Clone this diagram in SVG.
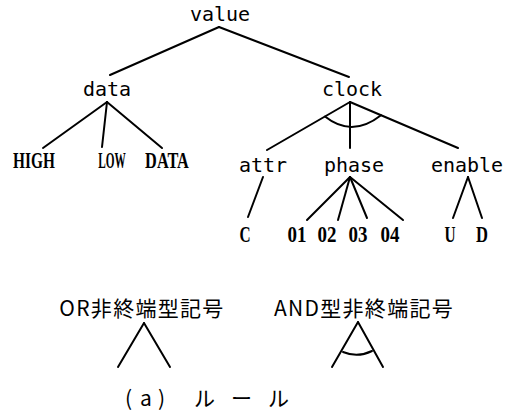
<svg xmlns="http://www.w3.org/2000/svg" width="509" height="414" viewBox="0 0 509 414">
<style>
.t{font-family:"DejaVu Sans Mono","Liberation Mono",monospace;font-size:20px;fill:#000;text-anchor:middle}
.b{font-family:"Liberation Serif","DejaVu Serif",serif;font-weight:bold;font-size:24px;fill:#000;text-anchor:middle}
.j{font-family:"Noto Sans CJK JP",sans-serif;font-size:21px;fill:#000;text-anchor:middle;letter-spacing:1.3px}
.c line,.c path{stroke:#000;stroke-width:2;fill:none;stroke-linecap:round}
</style>
<rect width="509" height="414" fill="#fff"/>
<g id="n-value"><text class="t" x="220" y="21">value</text></g>
<g id="n-data"><text class="t" x="107" y="96">data</text></g>
<g id="n-clock"><text class="t" x="352" y="96">clock</text></g>
<g id="n-high"><text class="b" transform="translate(34,168) scale(0.64,1)">HIGH</text></g>
<g id="n-low"><text class="b" transform="translate(112,168) scale(0.47,1)">LOW</text></g>
<g id="n-DATA"><text class="b" transform="translate(167,168) scale(0.68,1)">DATA</text></g>
<g id="n-attr"><text class="t" x="263" y="172">attr</text></g>
<g id="n-phase"><text class="t" x="354" y="172">phase</text></g>
<g id="n-enable"><text class="t" x="467" y="172">enable</text></g>
<g id="n-C"><text class="b" transform="translate(245,242) scale(0.64,1)">C</text></g>
<g id="n-01"><text class="b" transform="translate(297,242) scale(0.79,1)">01</text></g>
<g id="n-02"><text class="b" transform="translate(327,242) scale(0.79,1)">02</text></g>
<g id="n-03"><text class="b" transform="translate(358,242) scale(0.79,1)">03</text></g>
<g id="n-04"><text class="b" transform="translate(390,242) scale(0.79,1)">04</text></g>
<g id="n-U"><text class="b" transform="translate(450,242) scale(0.64,1)">U</text></g>
<g id="n-D"><text class="b" transform="translate(482,242) scale(0.69,1)">D</text></g>
<g id="legend-or"><text class="j" x="142" y="316">OR非終端型記号</text></g>
<g id="legend-and"><text class="j" x="364" y="316">AND型非終端記号</text></g>
<g id="caption"><text class="j" style="text-anchor:start;letter-spacing:0" y="406"><tspan x="125">(</tspan><tspan x="140">a</tspan><tspan x="158">) </tspan><tspan x="194">ル</tspan><tspan x="231">ー</tspan><tspan x="268">ル</tspan></text></g>
<g id="connectors" class="c">
<line x1="219" y1="27" x2="110" y2="75"/>
<line x1="219" y1="27" x2="349" y2="77"/>
<line x1="107" y1="102" x2="43" y2="148"/>
<line x1="107" y1="102" x2="102" y2="147"/>
<line x1="107" y1="102" x2="162" y2="148"/>
<line x1="350" y1="102" x2="267" y2="150"/>
<line x1="350" y1="102" x2="350" y2="148"/>
<line x1="350" y1="102" x2="458" y2="148"/>
<path d="M325,116.5 Q352,138 381,115.2"/>
<line x1="263" y1="177" x2="248" y2="217"/>
<line x1="350" y1="177" x2="307" y2="220"/>
<line x1="350" y1="177" x2="338" y2="220"/>
<line x1="350" y1="177" x2="367" y2="218"/>
<line x1="350" y1="177" x2="403" y2="220"/>
<line x1="468" y1="177" x2="453" y2="218"/>
<line x1="468" y1="177" x2="482" y2="218"/>
<line x1="144" y1="323" x2="118" y2="367"/>
<line x1="144" y1="323" x2="170" y2="367"/>
<line x1="358" y1="322" x2="332" y2="367"/>
<line x1="358" y1="322" x2="383" y2="367"/>
<path d="M343,352 Q357.5,358 372,351"/>
</g>
</svg>
